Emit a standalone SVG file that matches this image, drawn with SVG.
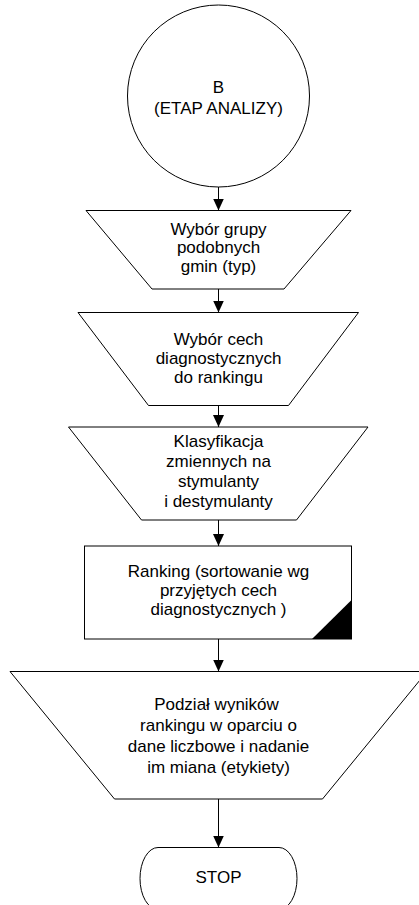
<svg xmlns="http://www.w3.org/2000/svg" width="419" height="905" viewBox="0 0 419 905">
<style>
.s{fill:#fff;stroke:#000;stroke-width:1}
.t{font-family:"Liberation Sans",Arial,sans-serif;font-size:17px;fill:#000;text-anchor:middle}
.c{stroke:#000;stroke-width:1;fill:none;marker-end:url(#ah)}
</style>
<defs>
<marker id="ah" markerUnits="userSpaceOnUse" markerWidth="12" markerHeight="12" viewBox="0 0 12 12" refX="12" refY="6" orient="auto">
<path d="M0,0.5 L12,6 L0,11.5 Z" fill="#000"/>
</marker>
</defs>
<rect width="419" height="905" fill="#fff"/>
<g id="connectors">
<line class="c" x1="218.5" y1="187" x2="218.5" y2="210.5"/>
<line class="c" x1="218.5" y1="289" x2="218.5" y2="312.5"/>
<line class="c" x1="218.5" y1="405.5" x2="218.5" y2="427"/>
<line class="c" x1="218.5" y1="520" x2="218.5" y2="546"/>
<line class="c" x1="218.5" y1="639" x2="218.5" y2="671.5"/>
<line class="c" x1="218.5" y1="799" x2="218.5" y2="847.5"/>
</g>
<g id="start">
<circle class="s" cx="218.5" cy="96" r="91"/>
<text class="t" x="218.5" y="93">B</text>
<text class="t" x="218.5" y="113.5">(ETAP ANALIZY)</text>
</g>
<g id="n1">
<path class="s" d="M86,210.5 H351 L284,289 H152 Z"/>
<text class="t" x="218.5" y="234.5">Wybór grupy</text>
<text class="t" x="218.5" y="253">podobnych</text>
<text class="t" x="218.5" y="271.5">gmin (typ)</text>
</g>
<g id="n2">
<path class="s" d="M78,312.5 H358.5 L288.5,405.5 H148.5 Z"/>
<text class="t" x="218.5" y="345">Wybór cech</text>
<text class="t" x="218.5" y="364">diagnostycznych</text>
<text class="t" x="218.5" y="383">do rankingu</text>
</g>
<g id="n3">
<path class="s" d="M68.5,427 H368 L296.5,520 H141.5 Z"/>
<text class="t" x="218.5" y="446.5">Klasyfikacja</text>
<text class="t" x="218.5" y="466.5">zmiennych na</text>
<text class="t" x="218.5" y="486.5">stymulanty</text>
<text class="t" x="218.5" y="506.5">i destymulanty</text>
</g>
<g id="n4">
<rect class="s" x="84.5" y="546" width="267" height="93"/>
<path d="M312,639 L351.5,639 L351.5,600 Z" fill="#000"/>
<text class="t" x="218.5" y="577">Ranking (sortowanie wg</text>
<text class="t" x="218.5" y="596">przyjętych cech</text>
<text class="t" x="218.5" y="615">diagnostycznych )</text>
</g>
<g id="n5">
<path class="s" d="M10,671.5 H427 L322.5,799 H114.5 Z"/>
<text class="t" x="216.5" y="710">Podział wyników</text>
<text class="t" x="218.5" y="731">rankingu w oparciu o</text>
<text class="t" x="218.5" y="752">dane liczbowe i nadanie</text>
<text class="t" x="218.5" y="773">im miana (etykiety)</text>
</g>
<g id="stop">
<path class="s" d="M158,847.5 L279,847.5 A18,31 0 0 1 279,909.5 L158,909.5 A18,31 0 0 1 158,847.5 Z"/>
<text class="t" x="218.5" y="883">STOP</text>
</g>
</svg>
